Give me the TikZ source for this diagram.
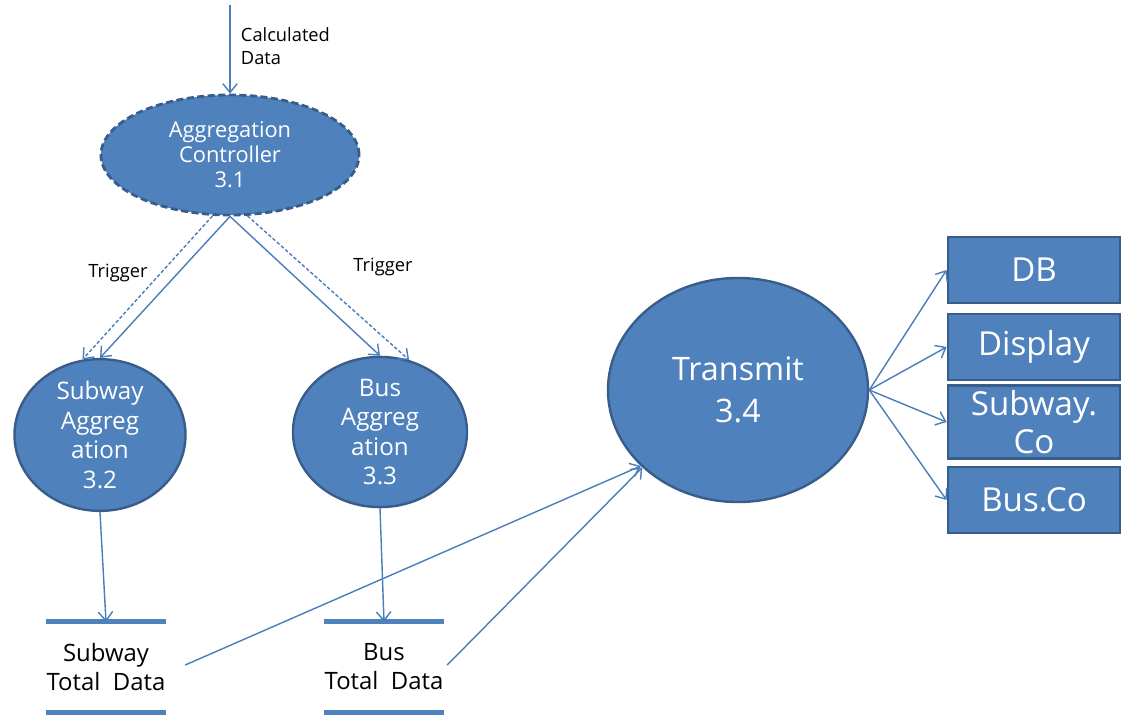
\documentclass[tikz,border=0pt]{standalone}
\usepackage{fontspec}
\setmainfont{Open Sans}
\usetikzlibrary{shapes.geometric,arrows.meta,positioning}
\definecolor{FlowFill}{HTML}{4F81BD}
\definecolor{FlowEdge}{HTML}{385D8A}
\definecolor{FlowLine}{HTML}{4A7EBB}
\tikzset{
    % Base process bubble
    procnode/.style={
        ellipse,
        draw=FlowEdge,
        fill=FlowFill,
        line width=1.7pt,
        text=white,
        align=center,
        inner sep=0pt
    },
    % Controller bubble (dashed rim)
    ctrlnode/.style={
        procnode,
        line width=2pt,
        dash pattern=on 5pt off 2.5pt,
        minimum width=6.45cm,
        minimum height=3cm,
        font=\fontsize{15.5}{17.8}\selectfont
    },
    % Aggregation bubbles
    aggnode/.style={
        procnode,
        minimum height=3.25cm,
        font=\fontsize{17.2}{21}\selectfont
    },
    % Transmit bubble
    sendnode/.style={
        procnode,
        minimum width=6.5cm,
        minimum height=5.6cm,
        font=\fontsize{23}{29.5}\selectfont
    },
    % Receiver box
    targetnode/.style={
        rectangle,
        draw=FlowEdge,
        fill=FlowFill,
        line width=2pt,
        text=white,
        minimum width=4.3cm,
        minimum height=1.65cm,
        align=center,
        font=\fontsize{23.5}{25}\selectfont
    },
    % Data store (text between two bars)
    storenode/.style={
        inner sep=0pt,
        minimum height=2.25cm,
        align=center,
        font=\fontsize{17}{20.6}\selectfont
    },
    % Small labels
    labeltext/.style={
        align=left,
        font=\fontsize{13}{16}\selectfont
    },
    % Arrow styles
    flowarrow/.style={
        -{Straight Barb[length=2.2mm,width=3.6mm]},
        draw=FlowLine,
        line width=1pt
    },
    trigarrow/.style={
        flowarrow,
        dash pattern=on 2.5pt off 1.5pt
    },
    storebar/.style={
        draw=FlowFill,
        line width=3.5pt
    }
}

\begin{document}
\begin{tikzpicture}[x=0.025cm,y=-0.025cm]
    \useasboundingbox (0,0) rectangle (1128,716);
    % processes
    \node[ctrlnode] (ctrl) at (230,155) {Aggregation\\Controller\\3.1};
    \node[aggnode,minimum width=4.275cm] (subagg) at (100,435) {Subway\\Aggreg\\ation\\3.2};
    \node[aggnode,minimum width=4.35cm] (busagg) at (380,432) {Bus\\Aggreg\\ation\\3.3};
    \node[sendnode] (send) at (738,390) {Transmit\\3.4};
    % receivers
    \node[targetnode] (db) at (1034,270) {DB};
    \node[targetnode] (disp) at (1034,347) {Display};
    \node[targetnode] (subco) at (1034,422) {\raisebox{3pt}{Subway.}\\[-1pt]Co};
    \node[targetnode] (busco) at (1034,500) {Bus.Co};
    % data stores
    \node[storenode] (substore) at (106,667) {Subway\\Total~~Data};
    \node[storenode] (busstore) at (384,667) {Bus\\Total~~Data};
    \foreach \s in {substore,busstore} {
        \draw[storebar] ([xshift=-1.5cm]\s.north) -- ([xshift=1.5cm]\s.north);
        \draw[storebar] ([xshift=-1.5cm]\s.south) -- ([xshift=1.5cm]\s.south);
    }
    % labels
    \coordinate (feed) at (230,5);
    \node[labeltext,anchor=west] (calc) at (236,46) {Calculated\\Data};
    \node[labeltext] (trigl) at (118,273) {Trigger};
    \node[labeltext] (trigr) at (383,267) {Trigger};
    % flows
    \draw[flowarrow] (feed) -- (ctrl.north);
    \draw[flowarrow] (ctrl.south) -- (subagg.north);
    \draw[trigarrow] (ctrl.254) -- (subagg.103);
    \draw[flowarrow] (ctrl.south) -- (busagg.north);
    \draw[trigarrow] (ctrl.286) -- (busagg.68);
    \draw[flowarrow] (subagg.south) -- (substore.north);
    \draw[flowarrow] (busagg.south) -- (busstore.north);
    \draw[flowarrow] ([xshift=1.98cm,yshift=0.05cm]substore.center) -- (send.218);
    \draw[flowarrow] ([xshift=1.58cm,yshift=0.05cm]busstore.center) -- (send.219);
    \foreach \t in {db,disp,subco,busco}
        \draw[flowarrow] (send.east) -- (\t.west);
\end{tikzpicture}
\end{document}
